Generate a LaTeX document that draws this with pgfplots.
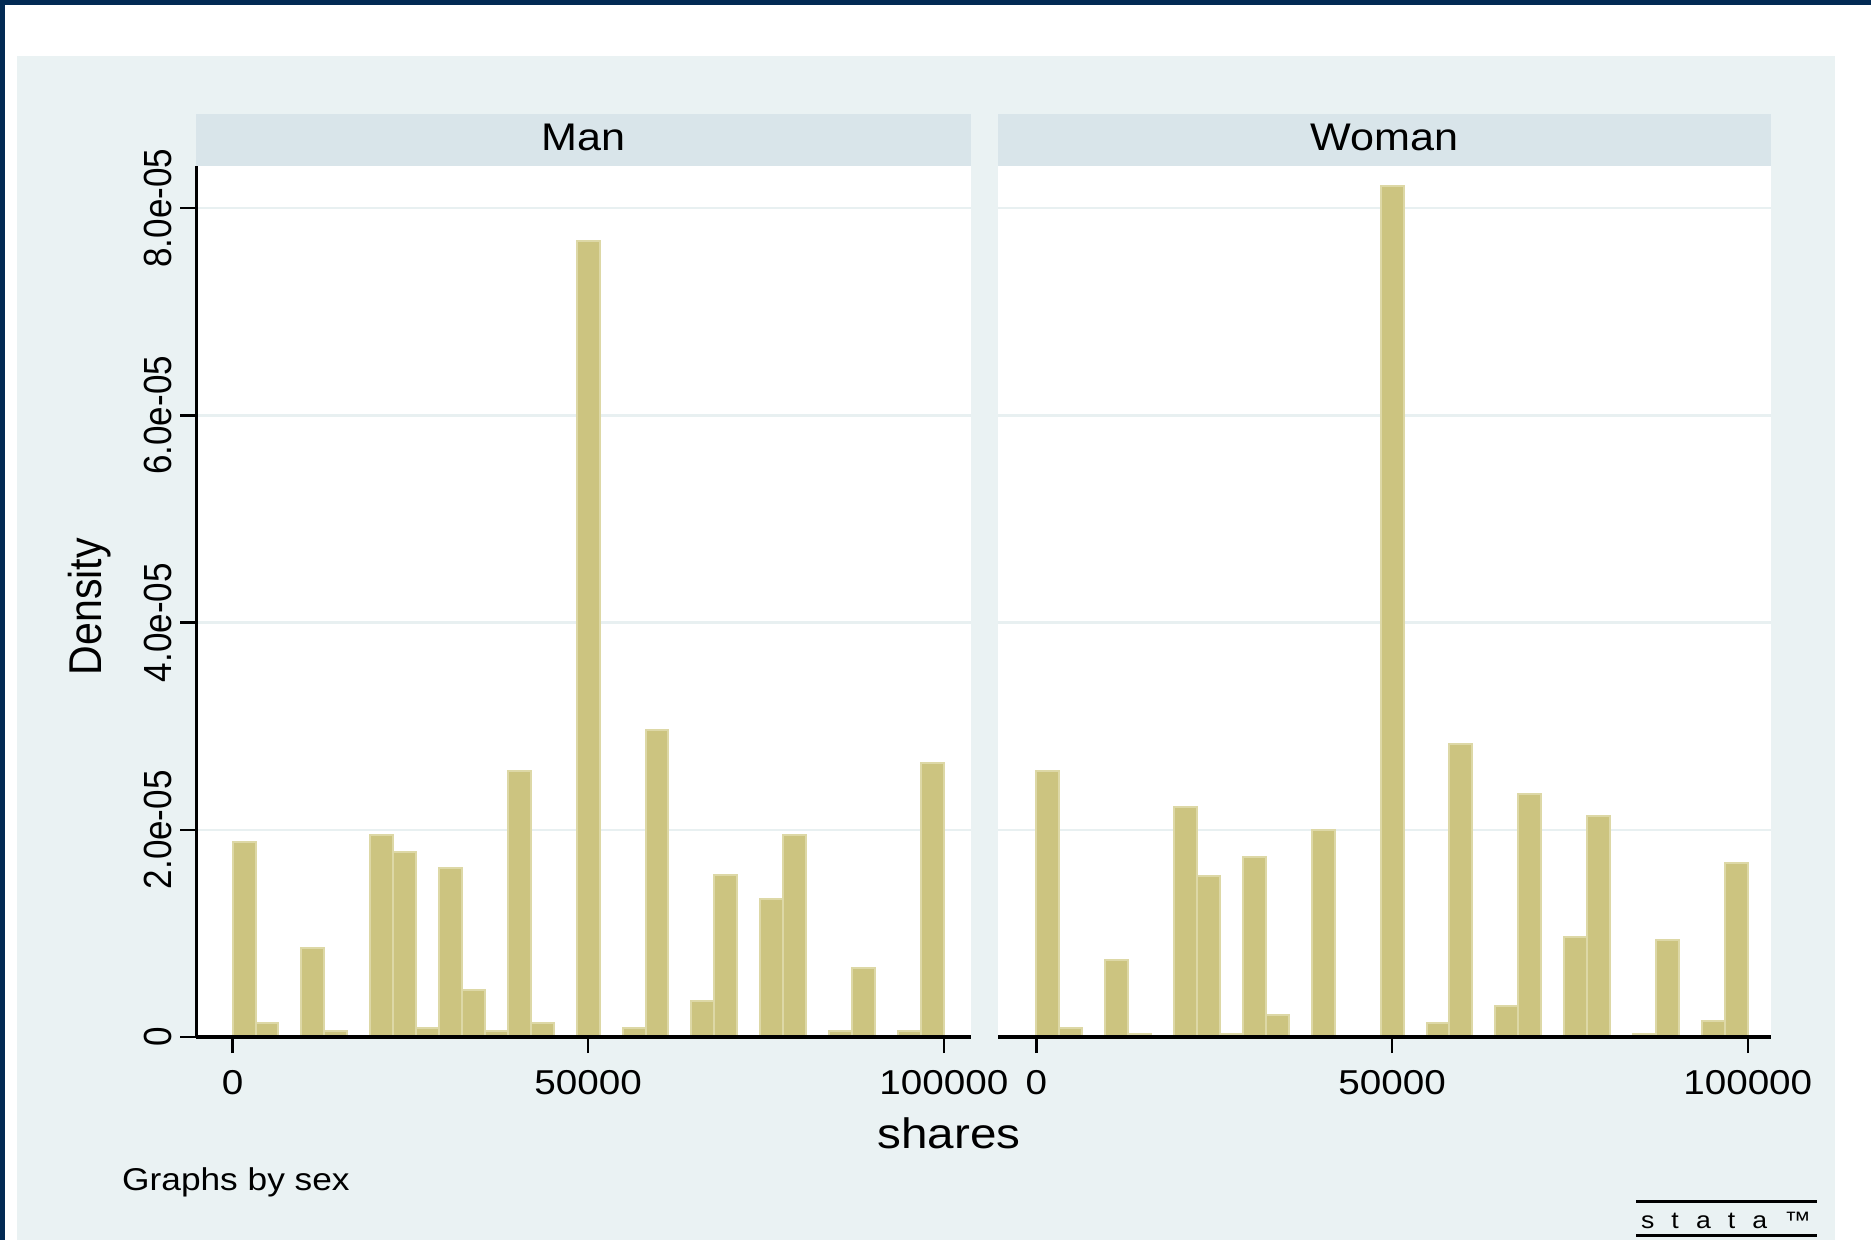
\documentclass[border=0pt]{standalone}
\usepackage{pgfplots}
\pgfplotsset{compat=1.18}
\usepackage{pgfplotstable}
\usepackage{fontspec}
\setmainfont{Liberation Sans}[FakeStretch=1.12]
\newfontfamily\tallfont{Liberation Sans}[FakeStretch=0.893]
\definecolor{bgc}{RGB}{234,242,243}
\definecolor{stripc}{RGB}{217,229,234}
\definecolor{navyc}{RGB}{2,42,84}
\definecolor{barfill}{RGB}{204,196,128}
\definecolor{baredge}{RGB}{221,216,166}
\definecolor{gridc}{RGB}{232,240,241}

\pgfplotstableread{
x y
1612.9 1.884e-5
4838.7 1.33e-6
11290.3 8.59e-6
14516.1 5.5e-7
20967.7 1.950e-5
24193.5 1.789e-5
27419.4 8.3e-7
30645.2 1.629e-5
33871.0 4.54e-6
37096.8 5.5e-7
40322.6 2.565e-5
43548.4 1.33e-6
50000.0 7.679e-5
56451.6 8.3e-7
59677.4 2.964e-5
66129.0 3.43e-6
69354.8 1.568e-5
75806.5 1.330e-5
79032.3 1.950e-5
85483.9 5.5e-7
88709.7 6.65e-6
95161.3 5.5e-7
98387.1 2.643e-5
}\mandata

\pgfplotstableread{
x y
1612.9 2.565e-5
4838.7 8.3e-7
11290.3 7.48e-6
14516.1 2.8e-7
20967.7 2.216e-5
24193.5 1.551e-5
27419.4 2.8e-7
30645.2 1.734e-5
33871.0 2.11e-6
40322.6 1.994e-5
50000.0 8.211e-5
56451.6 1.33e-6
59677.4 2.825e-5
66129.0 2.99e-6
69354.8 2.343e-5
75806.5 9.64e-6
79032.3 2.133e-5
85483.9 2.8e-7
88709.7 9.36e-6
95161.3 1.55e-6
98387.1 1.679e-5
}\womandata

\pgfplotsset{
  panel/.style={
    scale only axis, height=348.4pt,
    ymin=0, ymax=8.407e-5,
    axis x line*=bottom, axis y line*=left,
    axis line style={-, black, line width=1.3pt},
    tick align=outside, major tick length=6.4pt,
    tick style={black, line width=1pt},
    xtick={0,50000,100000}, xticklabels={0,50000,100000},
    ytick={0,2e-5,4e-5,6e-5,8e-5},
    ymajorgrids, grid style={gridc, line width=1pt},
    scaled x ticks=false, scaled y ticks=false,
    axis background/.style={fill=white},
    xticklabel style={font=\fontsize{13.8}{16}\selectfont, yshift=-3.3pt},
  },
  histbar/.style={ybar, bar width=3225.8, bar shift=0pt, fill=barfill, draw=baredge, line width=0.8pt},
}

\begin{document}
\begin{tikzpicture}[x=0.4pt, y=0.4pt]
\useasboundingbox (0,0) rectangle (1871,1240);
\fill[white] (0,0) rectangle (1871,1240);
\fill[bgc] (17,0) rectangle (1835,1184);
\fill[navyc] (0,1235) rectangle (1871,1240);
\fill[navyc] (0,0) rectangle (5,1240);
\fill[stripc] (196.3,1074) rectangle (970.8,1126);
\fill[stripc] (998.2,1074) rectangle (1770.6,1126);
\node[anchor=base, font=\fontsize{15.4}{18}\selectfont] at (583.5,1089.3) {Man};
\node[anchor=base, font=\fontsize{15.4}{18}\selectfont] at (1384.4,1089.3) {Woman};

\begin{axis}[panel, at={(78.52pt,81.2pt)}, anchor=south west, width=309.8pt,
  xmin=-5100, xmax=103800,
  yticklabels={0,2.0e-05,4.0e-05,6.0e-05,8.0e-05},
  yticklabel style={rotate=90, anchor=south, font=\tallfont\fontsize{15.7}{18}\selectfont}]
\addplot[histbar] table[x=x, y=y] {\mandata};
\draw[black, line width=1.3pt] (rel axis cs:0,0) -- (rel axis cs:1,0);
\end{axis}

\begin{axis}[panel, at={(399.28pt,81.2pt)}, anchor=south west, width=309pt,
  xmin=-5370, xmax=103230,
  ymajorticks=false, yticklabel={}, y axis line style={draw=none}]
\addplot[histbar] table[x=x, y=y] {\womandata};
\draw[black, line width=1.3pt] (rel axis cs:0,0) -- (rel axis cs:1,0);
\end{axis}

\node[rotate=90, anchor=base, font=\tallfont\fontsize{18.4}{22}\selectfont] at (101.7,633.3) {Density};
\node[anchor=base, font=\fontsize{17}{20}\selectfont] at (949,92) {shares};
\node[anchor=base west, inner sep=0pt, font=\fontsize{12.6}{15}\selectfont] at (121.7,50) {Graphs by sex};
\draw[black, line width=1.2pt] (1636,38.3) -- (1816.7,38.3);
\draw[black, line width=1.2pt] (1636,5) -- (1816.7,5);
\node[font=\fontsize{9.5}{11}\selectfont, inner sep=0pt] at (1726,20) {\makebox[68pt]{s\hfill t\hfill a\hfill t\hfill a\hfill ™}};
\end{tikzpicture}
\end{document}
